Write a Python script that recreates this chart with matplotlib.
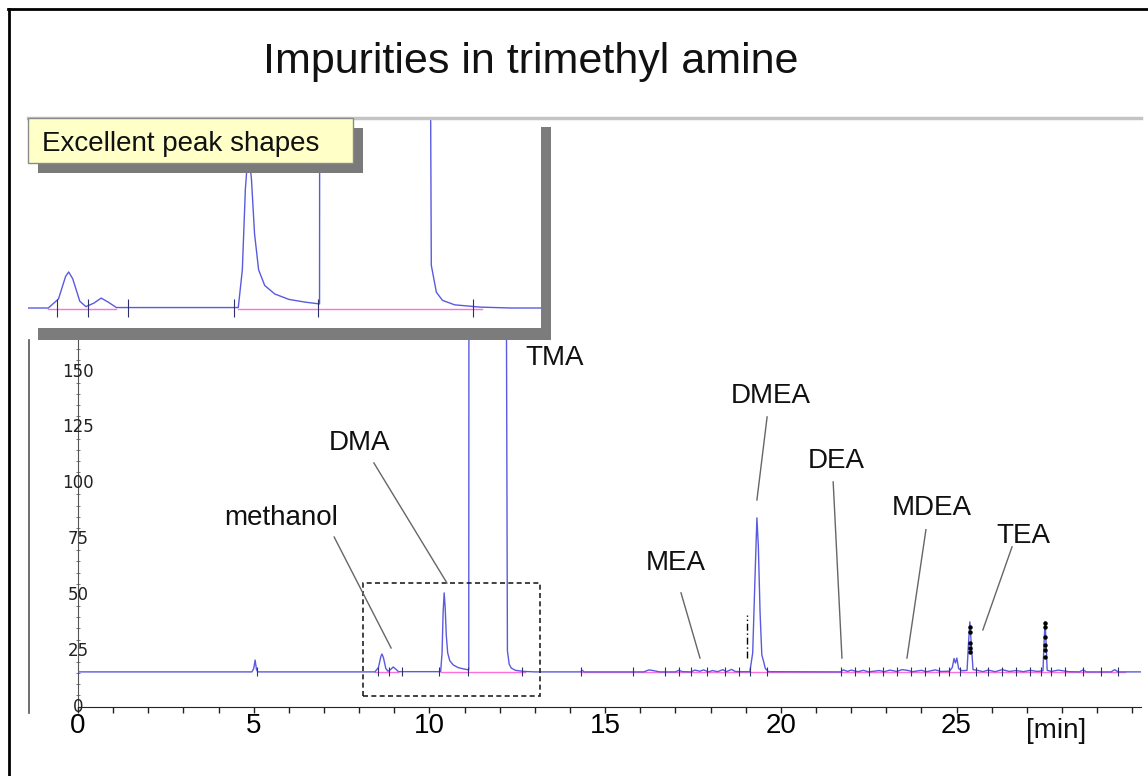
import matplotlib
matplotlib.use('Agg')
import matplotlib.pyplot as plt
from matplotlib.patches import Rectangle
from matplotlib.lines import Line2D
from matplotlib.ticker import MultipleLocator

# --- data (time in min, signal in mV) ---
chromatogram = [
    (0.0, 15.5), (4.95, 15.5), (5.0, 17.0), (5.04, 20.8), (5.08, 16.5), (5.12, 15.5),
    (8.45, 15.5), (8.55, 17.5), (8.62, 22.5), (8.65, 23.5), (8.69, 22.0), (8.76, 17.0),
    (8.82, 15.8), (8.9, 16.6), (8.97, 17.7), (9.04, 16.8), (9.12, 15.6),
    (10.32, 15.6), (10.36, 24.0), (10.39, 42.0), (10.42, 50.9), (10.45, 44.0), (10.48, 32.0),
    (10.52, 24.0), (10.58, 20.5), (10.68, 18.6), (10.82, 17.4), (10.98, 16.8), (11.12, 16.4),
    (11.13, 400.0), (12.15, 400.0), (12.22, 25.0), (12.27, 19.0), (12.33, 17.2), (12.45, 16.2),
    (12.7, 15.7), (13.0, 15.5),
    (14.3, 15.5), (14.35, 16.2), (14.4, 15.5), (16.1, 15.5), (16.25, 16.4), (16.4, 16.0),
    (16.55, 15.5), (17.0, 15.5), (17.1, 16.2), (17.2, 15.6), (17.45, 15.5), (17.55, 16.3),
    (17.7, 15.8), (17.8, 16.4), (17.95, 15.5), (18.05, 16.1), (18.2, 15.6), (18.35, 16.5),
    (18.45, 15.6), (18.6, 16.6), (18.7, 15.7), (18.8, 15.6),
    (19.12, 15.6), (19.2, 24.0), (19.27, 60.0), (19.32, 84.5), (19.36, 72.0), (19.41, 42.0),
    (19.46, 23.0), (19.5, 20.8), (19.56, 17.0), (19.65, 15.6),
    (21.7, 15.5), (21.78, 16.4), (21.9, 15.7), (22.0, 16.3), (22.2, 15.6), (22.35, 16.2),
    (22.5, 15.5), (22.8, 16.1), (22.95, 15.6), (23.1, 16.3), (23.3, 15.7), (23.45, 16.5),
    (23.6, 16.2), (23.75, 15.6), (24.0, 16.2), (24.15, 15.6), (24.4, 16.4), (24.55, 15.7),
    (24.8, 15.8), (24.88, 17.5), (24.93, 21.5), (24.97, 19.5), (25.01, 21.7), (25.06, 17.0),
    (25.15, 16.0), (25.3, 16.2), (25.34, 28.0), (25.38, 37.9), (25.42, 28.0), (25.47, 16.5),
    (25.6, 16.2), (25.75, 15.6), (25.9, 16.3), (26.1, 15.6), (26.3, 16.5), (26.5, 15.7),
    (26.7, 16.1), (26.9, 15.6), (27.1, 16.2), (27.3, 15.7), (27.46, 16.0), (27.49, 28.0),
    (27.52, 37.9), (27.55, 28.0), (27.58, 16.2), (27.7, 15.7), (27.9, 16.3), (28.2, 15.6),
    (28.5, 15.5), (28.6, 16.4), (28.7, 15.5), (29.4, 15.5), (29.5, 16.5), (29.6, 15.5),
    (30.25, 15.5),
]
trace_t = [p[0] for p in chromatogram]
trace_y = [p[1] for p in chromatogram]

baseline_level = 15.3
baseline_segments = [(8.45, 9.12), (10.32, 12.72), (14.3, 29.8)]
integration_marks = [5.1, 8.54, 8.84, 9.23, 10.28, 11.1, 12.63, 14.3, 15.8, 16.7, 17.1,
                     17.45, 17.9, 18.4, 18.8, 19.12, 19.6, 21.7, 22.1, 22.5, 22.9, 23.3,
                     23.7, 24.1, 24.5, 24.8, 25.1, 25.55, 25.9, 26.3, 26.7, 27.1, 27.4,
                     27.7, 28.1, 28.6, 29.1, 29.6]
dots_t = [25.38] * 5 + [27.52] * 6
dots_y = [35.6, 33.4, 28.4, 26.2, 24.4, 37.4, 35.6, 31.1, 27.6, 25.3, 22.2]

peak_names = ['TMA', 'DMEA', 'DMA', 'DEA', 'MDEA', 'methanol', 'TEA', 'MEA']
label_pos = [(13.55, 153.0), (19.72, 136.0), (8.02, 114.9), (21.57, 106.8),
             (24.30, 85.8), (5.78, 81.3), (26.89, 73.3), (17.02, 61.2)]
leaders = {
    'DMEA': ((19.61, 129.7), (19.32, 92.5)),
    'DMA': ((8.42, 109.1), (10.50, 55.3)),
    'DEA': ((21.49, 100.6), (21.74, 21.7)),
    'MDEA': ((24.13, 79.2), (23.59, 21.7)),
    'methanol': ((7.29, 75.9), (8.91, 26.2)),
    'TEA': ((26.58, 71.5), (25.75, 34.3)),
    'MEA': ((17.16, 50.9), (17.70, 21.7)),
}
zoom_box = (8.11, 4.7, 13.15, 55.3)
x_ticks = [0, 5, 10, 15, 20, 25]
y_ticks = [0, 25, 50, 75, 100, 125, 150]

W, H = 1148, 776
TRACE = '#5a5ae0'
PINK = '#ff70d8'
FONT = 'Liberation Sans'


def fig_rect(l, t, r, b):
    return [l / W, 1 - b / H, (r - l) / W, (b - t) / H]


def draw_trace(ax):
    for a, b in baseline_segments:
        ax.plot([a, b], [baseline_level, baseline_level], color=PINK, lw=1.0, zorder=2)
    ax.plot(trace_t, trace_y, color=TRACE, lw=1.0, zorder=3)
    ax.vlines(integration_marks, 13.5, 17.5, color='#303070', lw=0.8, zorder=4)


fig = plt.figure(figsize=(W / 100, H / 100), dpi=100)
plt.rcParams['font.family'] = [FONT, 'DejaVu Sans']

# --- main chromatogram ---
ax = fig.add_axes(fig_rect(78, 335, 1141, 706.5))
ax.set_xlim(0, 30.25)
ax.set_ylim(0, 166.4)
draw_trace(ax)
ax.plot(dots_t, dots_y, 'o', color='black', ms=2.2, zorder=5)
ax.plot([19.04, 19.04], [21.7, 41.0], color='black', lw=1.0, ls=(0, (5, 2, 1, 2)), zorder=5)

x0, y0, x1, y1 = zoom_box
ax.add_patch(Rectangle((x0, y0), x1 - x0, y1 - y0, fill=False, ec='#222222',
                       lw=1.2, ls=(0, (3, 2)), zorder=6))

for name, (lx, ly) in zip(peak_names, label_pos):
    ax.text(lx, ly, name, ha='center', va='baseline', fontsize=20, color='#111111', zorder=7)
    if name in leaders:
        (sx, sy), (ex, ey) = leaders[name]
        ax.plot([sx, ex], [sy, ey], color='#666666', lw=1.0, zorder=7)

for s in ['top', 'right']:
    ax.spines[s].set_visible(False)
ax.spines['bottom'].set_color('#222222')
ax.spines['left'].set_color('#555555')
ax.set_xticks(x_ticks)
ax.set_xticklabels([str(v) for v in x_ticks])
ax.xaxis.set_minor_locator(MultipleLocator(1))
ax.tick_params(axis='x', which='both', direction='out', length=4, width=1,
               color='#222222', labelsize=20, pad=1)
ax.set_yticks(y_ticks)
ax.set_yticklabels([])
ax.yaxis.set_minor_locator(MultipleLocator(5))
ax.tick_params(axis='y', which='major', length=0)
ax.tick_params(axis='y', which='minor', direction='inout', length=3, width=0.7, color='#777777')
for v in y_ticks:
    ax.text(0, v, str(v), ha='center', va='center', fontsize=12, family='DejaVu Sans',
            color='#222222', clip_on=False, zorder=8)
ax.text(27.83, -14.1, '[min]', ha='center', va='baseline', fontsize=20, color='#111111',
        clip_on=False)

# --- inset with the zoomed region ---
ins = fig.add_axes(fig_rect(28, 117, 541, 328))
ins.set_zorder(3)
ins.set_xlim(8.25, 13.3)
ins.set_ylim(11.06, 57.9)
draw_trace(ins)
ins.set_xticks([])
ins.set_yticks([])
for s in ins.spines.values():
    s.set_visible(False)

shadow = '#7c7c7c'
fig.add_artist(Rectangle((541 / W, 1 - 340 / H), 10 / W, 213 / H, transform=fig.transFigure,
                         fc=shadow, ec='none', zorder=2))
fig.add_artist(Rectangle((38 / W, 1 - 340 / H), 513 / W, 12 / H, transform=fig.transFigure,
                         fc=shadow, ec='none', zorder=2))

# text box with shadow
fig.add_artist(Rectangle((38 / W, 1 - 173 / H), 325 / W, 45 / H, transform=fig.transFigure,
                         fc='#7a7a7a', ec='none', zorder=5))
fig.add_artist(Rectangle((28 / W, 1 - 163 / H), 325 / W, 45 / H, transform=fig.transFigure,
                         fc='#ffffc8', ec='#8a8a8a', lw=1, zorder=6))
fig.text(42 / W, 1 - 151 / H, 'Excellent peak shapes', fontsize=20, color='#111111',
         va='baseline', zorder=7)

# window frame lines and slide border
fig.add_artist(Line2D([28 / W, 1141 / W], [1 - 117.5 / H] * 2, transform=fig.transFigure,
                      color='#c4c4c4', lw=2.5, zorder=4))
fig.add_artist(Line2D([29 / W] * 2, [1 - 340 / H, 1 - 713 / H], transform=fig.transFigure,
                      color='#555555', lw=1.2, zorder=4))
fig.add_artist(Line2D([9 / W] * 2, [1 - 9 / H, 0], transform=fig.transFigure,
                      color='black', lw=2, zorder=9))
fig.add_artist(Line2D([8 / W, 1], [1 - 9 / H] * 2, transform=fig.transFigure,
                      color='black', lw=2, zorder=9))

fig.text(531 / W, 1 - 73 / H, 'Impurities in trimethyl amine', ha='center', va='baseline',
         fontsize=31, color='#111111')

fig.savefig('out.png', dpi=100)
